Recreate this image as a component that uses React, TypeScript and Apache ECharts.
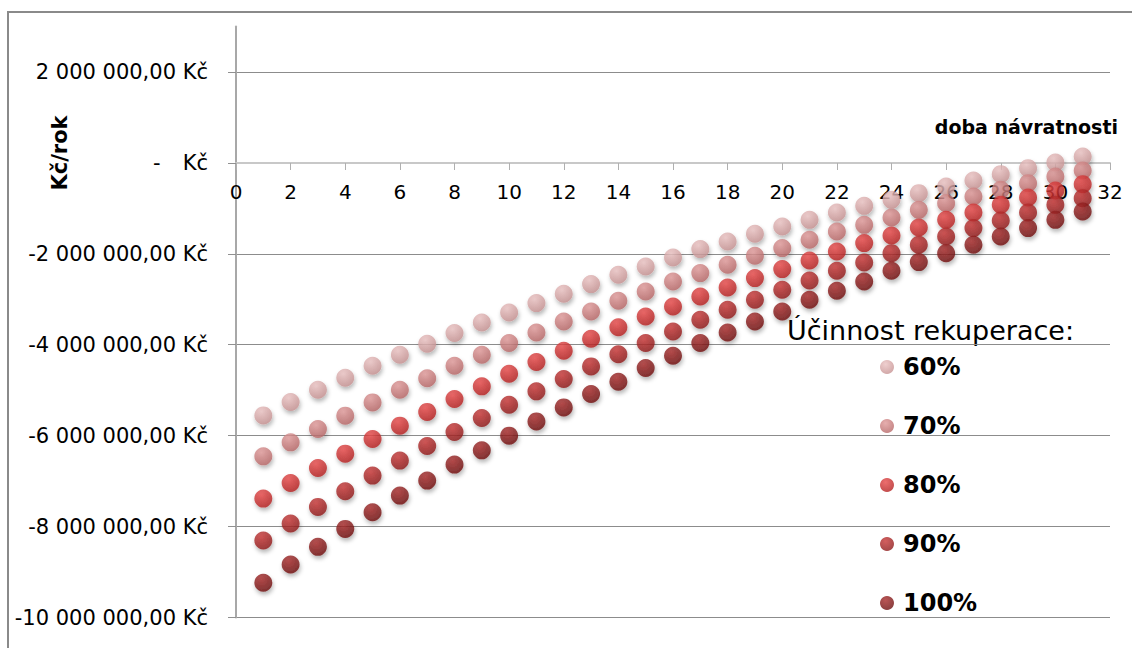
import React, { useEffect, useRef } from "react";
import * as echarts from "echarts";

const years = [1, 2, 3, 4, 5, 6, 7, 8, 9, 10, 11, 12, 13, 14, 15, 16, 17, 18, 19, 20, 21, 22, 23, 24, 25, 26, 27, 28, 29, 30, 31];

const eff60 = [-5554000, -5259000, -4989000, -4725000, -4462000, -4220000, -3978000, -3743000, -3510000, -3290000, -3084000, -2879000, -2666000, -2462000, -2279000, -2081000, -1897000, -1730000, -1560000, -1400000, -1253000, -1092000, -945000, -813000, -666000, -521000, -389000, -248000, -116000, 7000, 138000];
const eff70 = [-6455000, -6147000, -5853000, -5560000, -5268000, -4989000, -4736000, -4462000, -4220000, -3963000, -3730000, -3488000, -3268000, -3033000, -2829000, -2609000, -2424000, -2242000, -2044000, -1875000, -1692000, -1510000, -1363000, -1202000, -1033000, -886000, -741000, -593000, -446000, -301000, -169000];
const eff80 = [-7385000, -7040000, -6710000, -6396000, -6073000, -5780000, -5477000, -5193000, -4916000, -4637000, -4380000, -4132000, -3868000, -3615000, -3378000, -3158000, -2938000, -2741000, -2534000, -2336000, -2147000, -1949000, -1765000, -1598000, -1422000, -1253000, -1092000, -923000, -763000, -609000, -468000];
const eff90 = [-8308000, -7934000, -7567000, -7224000, -6879000, -6549000, -6226000, -5919000, -5611000, -5319000, -5026000, -4754000, -4477000, -4209000, -3963000, -3708000, -3451000, -3231000, -3011000, -2791000, -2587000, -2374000, -2191000, -1985000, -1802000, -1620000, -1435000, -1268000, -1092000, -923000, -776000];
const eff100 = [-9237000, -8835000, -8446000, -8051000, -7686000, -7319000, -6989000, -6637000, -6323000, -6000000, -5686000, -5378000, -5084000, -4813000, -4512000, -4242000, -3963000, -3730000, -3488000, -3268000, -3011000, -2813000, -2609000, -2374000, -2182000, -1985000, -1802000, -1620000, -1435000, -1253000, -1070000];

const seriesNames = ["60%", "70%", "80%", "90%", "100%"];
const seriesValues = [eff60, eff70, eff80, eff90, eff100];
const seriesColors: [string, string][] = [
  ["#ebc3c3", "#c48f8f"],
  ["#e09a9a", "#b46464"],
  ["#e84a4a", "#b01e1e"],
  ["#c83636", "#8a1818"],
  ["#a82a2a", "#6a0e0e"],
];
const yTicks = [-10000000, -8000000, -6000000, -4000000, -2000000, 0, 2000000];

const FONT = "DejaVu Sans";

function fmt(v: number): string {
  if (v === 0) return "{d|-}Kč";
  const s = Math.abs(v)
    .toFixed(0)
    .replace(/\B(?=(\d{3})+(?!\d))/g, " ");
  return (v < 0 ? "-" : "") + s + ",00 Kč";
}

export default function App() {
  const ref = useRef<HTMLDivElement>(null);
  useEffect(() => {
    document.body.style.margin = "0";
    const chart = echarts.init(ref.current!, null, { renderer: "svg" });
    const series = seriesNames.map((name, i) => ({
      name,
      type: "scatter",
      symbol: "circle",
      symbolSize: 18,
      data: years.map((x, j) => [x, seriesValues[i][j]]),
      itemStyle: {
        color: {
          type: "radial",
          x: 0.4,
          y: 0.3,
          r: 0.75,
          colorStops: [
            { offset: 0, color: seriesColors[i][0] },
            { offset: 1, color: seriesColors[i][1] },
          ],
        },
        shadowBlur: 4,
        shadowOffsetX: 1,
        shadowOffsetY: 3,
        shadowColor: "rgba(0,0,0,0.35)",
      },
    }));
    chart.setOption({
      animation: false,
      backgroundColor: "#ffffff",
      grid: {
        left: 236,
        right: 22,
        top: 26.5,
        bottom: 30.5,
        containLabel: false,
        outerBoundsMode: "none",
      },
      xAxis: {
        type: "value",
        min: 0,
        max: 32,
        interval: 2,
        position: "bottom",
        offset: -454.5,
        axisLine: { show: true, onZero: false, lineStyle: { color: "#c8c8c8", width: 2 } },
        axisTick: { show: true, length: 7, lineStyle: { color: "#b0b0b0" } },
        axisLabel: { color: "#000", fontFamily: FONT, fontSize: 20, margin: 19 },
        splitLine: { show: false },
      },
      yAxis: {
        type: "value",
        min: -10000000,
        max: 3000000,
        interval: 2000000,
        axisLine: { show: true, onZero: false, lineStyle: { color: "#a8a8a8", width: 2 } },
        axisTick: { show: true, length: 8, customValues: yTicks, lineStyle: { color: "#909090" } },
        axisLabel: {
          color: "#000",
          fontFamily: FONT,
          fontSize: 21,
          margin: 28,
          customValues: yTicks,
          formatter: (v: number) => fmt(v),
          rich: {
            d: { color: "#000", fontFamily: FONT, fontSize: 21, padding: [0, 22, 0, 0] },
          },
        },
        splitLine: { show: true, lineStyle: { color: "#8c8c8c", width: 1 } },
      },
      legend: {
        orient: "vertical",
        left: 875,
        top: 348,
        itemWidth: 14,
        itemHeight: 14,
        itemGap: 31,
        icon: "circle",
        data: seriesNames,
        textStyle: {
          color: "#000",
          fontFamily: FONT,
          fontSize: 24,
          fontWeight: "bold",
          lineHeight: 28,
          padding: [0, 0, 0, 4],
        },
      },
      graphic: [
        {
          type: "rect",
          silent: true,
          shape: { x: 8, y: 12, width: 1140, height: 660 },
          style: { fill: "none", stroke: "#8a8a8a", lineWidth: 2 },
        },
        {
          type: "text",
          silent: true,
          x: 60,
          y: 153,
          rotation: Math.PI / 2,
          style: {
            text: "Kč/rok",
            fill: "#000",
            font: `bold 21px '${FONT}'`,
            textAlign: "center",
            textVerticalAlign: "middle",
          },
        },
        {
          type: "text",
          silent: true,
          x: 787,
          y: 330,
          style: {
            text: "Účinnost rekuperace:",
            fill: "#000",
            font: `27px '${FONT}'`,
            textAlign: "left",
            textVerticalAlign: "middle",
          },
        },
        {
          type: "text",
          silent: true,
          x: 1118,
          y: 127,
          style: {
            text: "doba návratnosti",
            fill: "#000",
            font: `bold 19px '${FONT}'`,
            textAlign: "right",
            textVerticalAlign: "middle",
          },
        },
      ],
      series,
    });
    return () => chart.dispose();
  }, []);
  return <div ref={ref} style={{ width: 1132, height: 648 }} />;
}
